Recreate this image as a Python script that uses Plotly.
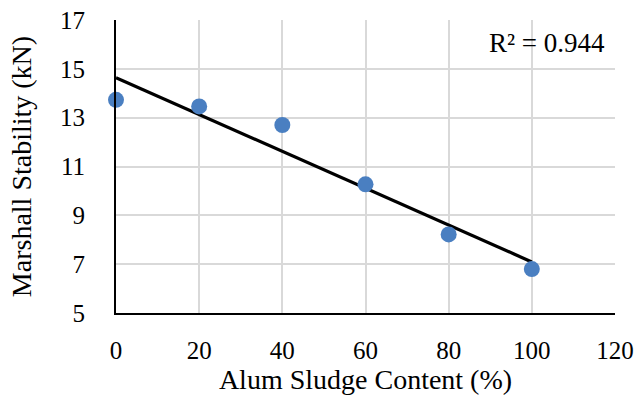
import numpy as np
import plotly.graph_objects as go

alum_content = [0, 20, 40, 60, 80, 100]
stability = [13.73, 13.46, 12.70, 10.27, 8.22, 6.8]
x_ticks = [0, 20, 40, 60, 80, 100, 120]
y_ticks = [5, 7, 9, 11, 13, 15, 17]
r2_label = "R² = 0.944"

x = np.array(alum_content, dtype=float)
y = np.array(stability, dtype=float)
slope, intercept = np.polyfit(x, y, 1)
fit = slope * x + intercept

font = "Liberation Serif, Times New Roman, serif"

fig = go.Figure()
fig.add_trace(go.Scatter(x=[x.min(), x.max()], y=[fit[0], fit[-1]], mode="lines",
                         line=dict(color="black", width=3.2), showlegend=False,
                         cliponaxis=False))
fig.add_trace(go.Scatter(x=alum_content, y=stability, mode="markers",
                         marker=dict(color="#4a7fc1", size=16), showlegend=False,
                         cliponaxis=False))

fig.add_annotation(x=1, y=1, xref="paper", yref="paper", xanchor="right", yanchor="top",
                   xshift=-8, yshift=-6,
                   text=r2_label, showarrow=False,
                   font=dict(family=font, size=27, color="black"))

fig.update_layout(
    width=637, height=395,
    margin=dict(l=116, r=22, t=20, b=82, autoexpand=False),
    plot_bgcolor="white", paper_bgcolor="white",
    font=dict(family=font, size=25, color="black"),
)
fig.update_xaxes(range=[0, 120], tickvals=x_ticks, showgrid=True, gridcolor="#d9d9d9",
                 gridwidth=1.5, showline=True, linecolor="black", linewidth=2,
                 mirror=False, zeroline=False, ticks="", ticklabelstandoff=14,
                 automargin=False,
                 title=dict(text="Alum Sludge Content (%)", standoff=0,
                            font=dict(family=font, size=28)))
fig.update_yaxes(range=[5, 17], tickvals=y_ticks, showgrid=True, gridcolor="#d9d9d9",
                 gridwidth=1.5, showline=True, linecolor="black", linewidth=2,
                 zeroline=False, ticks="", ticklabelstandoff=24,
                 automargin=False,
                 title=dict(text="Marshall Stability (kN)", standoff=20,
                            font=dict(family=font, size=28)))

fig.write_html("out.html", config={"displayModeBar": False},
               post_script="document.body.style.margin='0';document.body.style.padding='0';")
